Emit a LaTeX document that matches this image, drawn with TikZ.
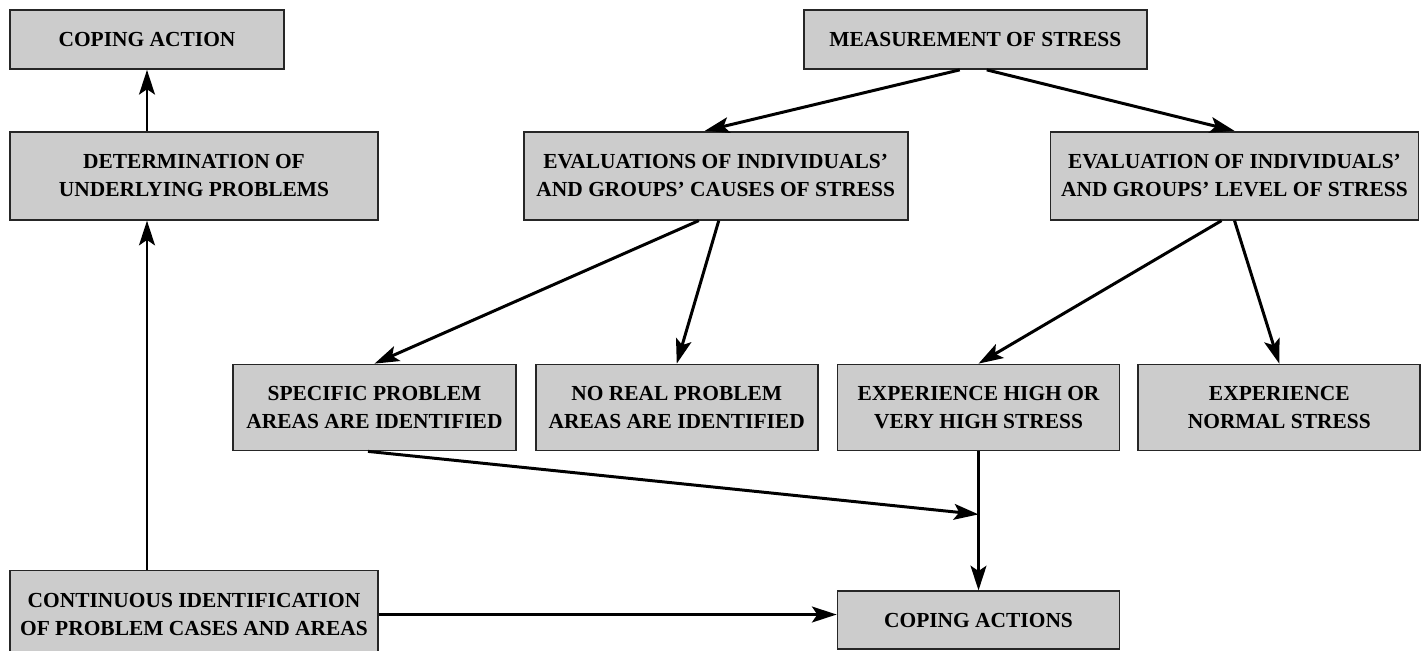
\documentclass[tikz,border=0pt]{standalone}
\usepackage{fontspec}
\setmainfont{Liberation Serif}
\usepackage{xcolor}
\definecolor{boxgray}{RGB}{204,204,204}
\usepackage{tikz}
\usetikzlibrary{arrows.meta,positioning}

\begin{document}
\begin{tikzpicture}[
        node distance=0.36cm and 0.36cm,
        box/.style={rectangle, draw=black!85, line width=1pt, fill=boxgray, minimum height=1.76cm, inner sep=2pt, align=center, font=\fontsize{12.2}{16}\selectfont\bfseries},
        onebox/.style={box, minimum height=1.18cm},
        link/.style={-{Stealth[length=14pt, width=9pt, inset=3pt]}, line width=1.7pt}
    ]
        \useasboundingbox (0,0) rectangle (28.42,-13.02);

        % Left column
        \node[onebox, minimum width=5.48cm] (copeact) at (2.94,-0.79) {COPING ACTION};
        \node[box, minimum width=7.36cm, below right=1.22cm and 0cm of copeact.south west] (determ) {
            DETERMINATION OF\\
            UNDERLYING PROBLEMS
        };
        \node[box, minimum width=7.36cm, below right=6.98cm and 0cm of determ.south west] (contin) {
            CONTINUOUS IDENTIFICATION\\
            OF PROBLEM CASES AND AREAS
        };

        % Measurement
        \node[onebox, minimum width=6.86cm, right=10.36cm of copeact] (measure) {MEASUREMENT OF STRESS};
        \node[box, minimum width=7.68cm, right=2.88cm of determ] (evalcause) {
            EVALUATIONS OF INDIVIDUALS'\\
            AND GROUPS' CAUSES OF STRESS
        };
        \node[box, minimum width=7.36cm, right=2.82cm of evalcause] (evallevel) {
            EVALUATION OF INDIVIDUALS'\\
            AND GROUPS' LEVEL OF STRESS
        };

        % Outcomes
        \node[box, minimum width=5.66cm, minimum height=1.72cm, below right=2.86cm and 4.46cm of determ.south west] (specific) {
            SPECIFIC PROBLEM\\
            AREAS ARE IDENTIFIED
        };
        \node[box, minimum width=5.64cm, minimum height=1.72cm, right=of specific] (noreal) {
            NO REAL PROBLEM\\
            AREAS ARE IDENTIFIED
        };
        \node[box, minimum width=5.64cm, minimum height=1.72cm, right=of noreal] (exphigh) {
            EXPERIENCE HIGH OR\\
            VERY HIGH STRESS
        };
        \node[box, minimum width=5.64cm, minimum height=1.72cm, right=0.34cm of exphigh] (expnormal) {
            EXPERIENCE\\
            NORMAL STRESS
        };

        % Coping actions
        \node[onebox, minimum width=5.64cm, minimum height=1.16cm, below=2.78cm of exphigh] (copeacts) {COPING ACTIONS};
        \coordinate[below=1.26cm of exphigh.south] (join);

        % Relations
        \draw[link] ([xshift=-0.31cm]measure.south) -- ([xshift=-0.22cm]evalcause.north);
        \draw[link] ([xshift=0.23cm]measure.south) -- (evallevel.north);
        \draw[link] ([xshift=-0.34cm]evalcause.south) -- (specific.north);
        \draw[link] ([xshift=0.06cm]evalcause.south) -- (noreal.north);
        \draw[link] ([xshift=-0.26cm]evallevel.south) -- (exphigh.north);
        \draw[link] (evallevel.south) -- (expnormal.north);
        \draw[link] (exphigh.south) -- (copeacts.north);
        \draw[link] ([xshift=-0.13cm]specific.south) -- (join);
        \draw[link] (contin.east) -- (contin.east -| copeacts.west);
        \draw[link] (copeact.south |- contin.north) -- (copeact.south |- determ.south);
        \draw[link] (copeact.south |- determ.north) -- (copeact.south);

    \end{tikzpicture}
\end{document}
